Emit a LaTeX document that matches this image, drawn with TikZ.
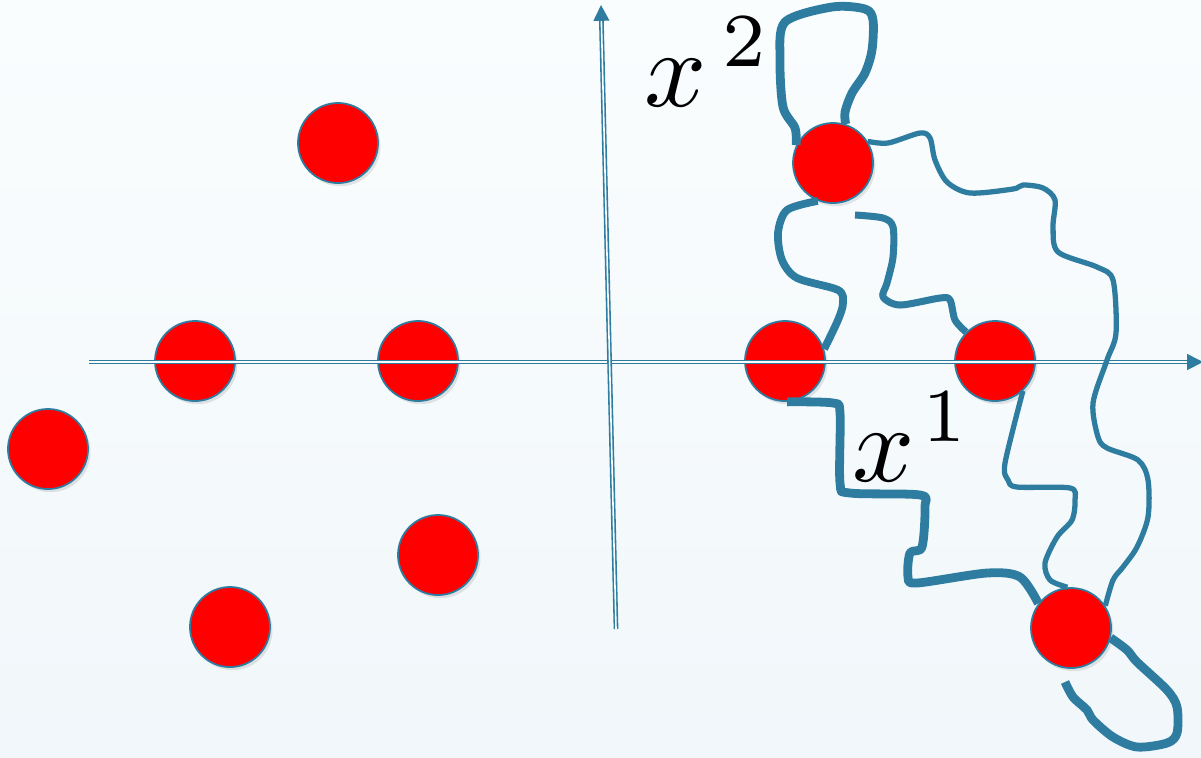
\documentclass[tikz,border=0pt]{standalone}
\usetikzlibrary{arrows.meta,shadows}
\definecolor{walkblue}{RGB}{46,125,160}
\definecolor{bgtop}{RGB}{250,253,254}
\definecolor{bgbot}{RGB}{241,247,250}
\begin{document}
\begin{tikzpicture}[x=0.01cm,y=-0.01cm,
  dot/.style={circle,draw=walkblue,line width=0.5pt,fill=red,minimum size=0.8cm,inner sep=0pt,
    drop shadow={opacity=0.2,shadow xshift=0.7pt,shadow yshift=-0.9pt}},
  axis/.style={draw=walkblue,double=bgtop,double distance=0.45pt,line width=0.45pt,
    -{Triangle[length=4.5pt,width=4.5pt]}},
  walk/.style={draw=walkblue,line width=2.5pt,line join=round},
  thinwalk/.style={walk,line width=1.5pt},
  lbl/.style={scale=3.1,inner sep=0pt}]
\useasboundingbox (0,0) rectangle (1201,757);
\fill[top color=bgtop,bottom color=bgbot] (0,0) rectangle (1201,757);

\node[dot] (q1) at (338,143) {};
\node[dot] (q2) at (195,361) {};
\node[dot] (q3) at (418,361) {};
\node[dot] (q4) at (48,449) {};
\node[dot] (q5) at (438,555) {};
\node[dot] (q6) at (230,627) {};
\node[dot] (q7) at (785,361) {};
\node[dot] (q8) at (833,163) {};
\node[dot] (q9) at (995,361) {};
\node[dot] (q10) at (1071,628) {};

\coordinate (h0) at (89,362);
\coordinate (h1) at (1203,362);
\coordinate (v0) at (616,629);
\coordinate (v1) at (601,5);
\draw[axis] (h0) -- (h1);
\draw[axis] (v0) -- (v1);

\coordinate (d0) at (855,215);
\coordinate (g1) at (1065,682);

\draw[walk] plot[smooth,tension=0.5] coordinates
{(q8.154) (795,128) (783,107) (780,60) (785,22) (832,7) (865,9) (873,20) (872,50) (865,73) (852,93) (845,112) (q8.72)};
\draw[walk,line width=2.2pt] plot[smooth,tension=0.5] coordinates
{(q8.248) (787,210) (778,233) (782,260) (797,278) (838,290) (843,303) (838,320) (q7.17)};
\draw[thinwalk] plot[smooth,tension=0.5] coordinates
{(q8.32) (888,143) (920,133) (930,138) (935,160) (947,182) (970,193) (1013,189) (1023,185) (1043,188) (1055,200) (1053,227) (1058,252) (1097,267) (1113,280) (1116,333) (1107,360) (1093,403) (1098,437) (1107,448) (1138,460) (1148,480) (1148,517) (1137,547) (1123,567) (1113,580) (q10.33)};
\draw[walk,line width=2pt] plot[smooth,tension=0.5] coordinates
{(d0) (883,218) (893,227) (893,257) (887,283) (883,297) (900,305) (940,298) (950,300) (955,320) (q9.135)};
\draw[walk] plot[smooth,tension=0.5] coordinates
{(q7.273) (833,403) (840,413) (840,483) (850,493) (920,495) (925,507) (922,547) (910,553) (908,577) (917,583) (987,573) (1020,577) (q10.143)};
\draw[thinwalk] plot[smooth,tension=0.5] coordinates
{(q9.313) (1005,463) (1008,480) (1017,487) (1070,488) (1075,500) (1072,520) (1057,537) (1045,563) (1050,580) (q10.95)};
\draw[walk] plot[smooth,tension=0.5] coordinates
{(q10.346) (1127,650) (1137,662) (1167,690) (1177,707) (1177,733) (1167,743) (1137,747) (1113,737) (1093,720) (1087,710) (1073,697) (g1)};

\node[lbl] (xtwo) at (708,62) {$x^{\,2}$};
\node[lbl] (xone) at (912,437) {$x^{\mkern1.5mu 1}$};
\end{tikzpicture}
\end{document}
